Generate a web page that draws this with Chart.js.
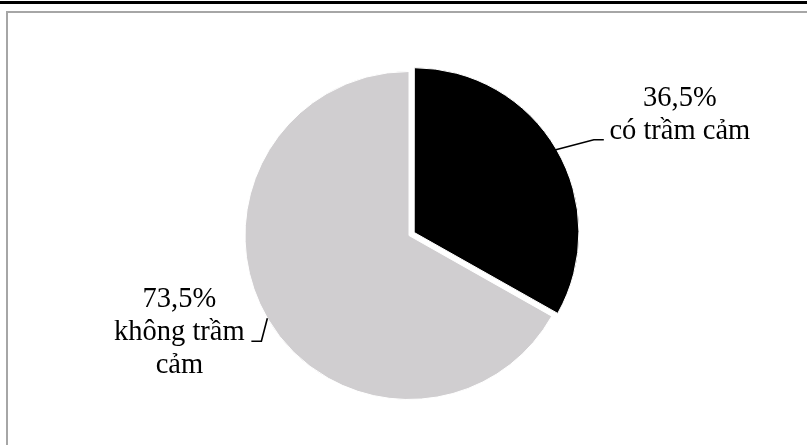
<!DOCTYPE html>
<html>
<head>
<meta charset="utf-8">
<script src="https://cdn.jsdelivr.net/npm/chart.js@4/dist/chart.umd.min.js"></script>
<style>
  html, body { margin: 0; padding: 0; background: #fff; overflow: hidden; }
  #wrap { position: relative; width: 818px; height: 445px; }
</style>
</head>
<body>
<div id="wrap"><canvas id="pieChart"></canvas></div>
<script>
// data
const categories = ['có trầm cảm', 'không trầm cảm'];
const values = [36.5, 73.5];
const labelLines = [['có trầm cảm'], ['không trầm', 'cảm']];
const sliceColors = ['#000000', '#d0ced0'];

const fmtPct = (v) => v.toFixed(1).replace('.', ',') + '%';

// frame + callout labels
const decor = {
  id: 'decor',
  beforeDraw(chart) {
    const ctx = chart.ctx;
    ctx.save();
    ctx.fillStyle = '#000';
    ctx.fillRect(0, 1, 807, 3);
    ctx.strokeStyle = '#a6a6a6';
    ctx.lineWidth = 2;
    ctx.strokeRect(7, 12, 900, 500);
    ctx.restore();
  },
  afterDraw(chart) {
    const ctx = chart.ctx;
    const arcs = chart.getDatasetMeta(0).data;
    // leader shape per slice: [dx, dy] to elbow, then horizontal run
    const leaders = [
      { elbow: [38, -10], run: 10, textDx: 76, baseDy: -34 },
      { elbow: [-6, 23], run: -10, textDx: -72, baseDy: -34 },
    ];
    ctx.save();
    ctx.strokeStyle = '#000';
    ctx.lineWidth = 1.6;
    ctx.fillStyle = '#000';
    ctx.font = '28.5px "Liberation Serif", "Times New Roman", serif';
    ctx.textAlign = 'center';
    ctx.textBaseline = 'alphabetic';
    arcs.forEach((arc, i) => {
      const p = arc.getProps(['x', 'y', 'startAngle', 'endAngle', 'outerRadius']);
      const mid = (p.startAngle + p.endAngle) / 2;
      const shift = (arc.options.offset || 0) / 4;
      const ax = p.x + Math.cos(mid) * (shift + p.outerRadius);
      const ay = p.y + Math.sin(mid) * (shift + p.outerRadius);
      const L = leaders[i];
      const ex = ax + L.elbow[0], ey = ay + L.elbow[1];
      const fx = ex + L.run;
      ctx.beginPath();
      ctx.moveTo(ax, ay);
      ctx.lineTo(ex, ey);
      ctx.lineTo(fx, ey);
      ctx.stroke();
      const tx = fx + L.textDx;
      const lines = [fmtPct(values[i])].concat(labelLines[i]);
      const base = ey + L.baseDy;
      lines.forEach((t, k) => ctx.fillText(t, tx, base + k * 33));
    });
    ctx.restore();
  },
};

new Chart(document.getElementById('pieChart'), {
  type: 'pie',
  data: {
    labels: categories,
    datasets: [{
      data: values,
      backgroundColor: sliceColors,
      borderColor: '#ffffff',
      borderWidth: 1,
      hoverBorderWidth: 1,
      offset: [24, 0],
      hoverOffset: 0,
    }],
  },
  options: {
    responsive: true,
    maintainAspectRatio: false,
    animation: false,
    events: [],
    layout: { padding: { top: 59, bottom: 33, left: 0, right: 0 } },
    plugins: {
      legend: { display: false },
      tooltip: { enabled: false },
    },
  },
  plugins: [decor],
});
</script>
</body>
</html>
